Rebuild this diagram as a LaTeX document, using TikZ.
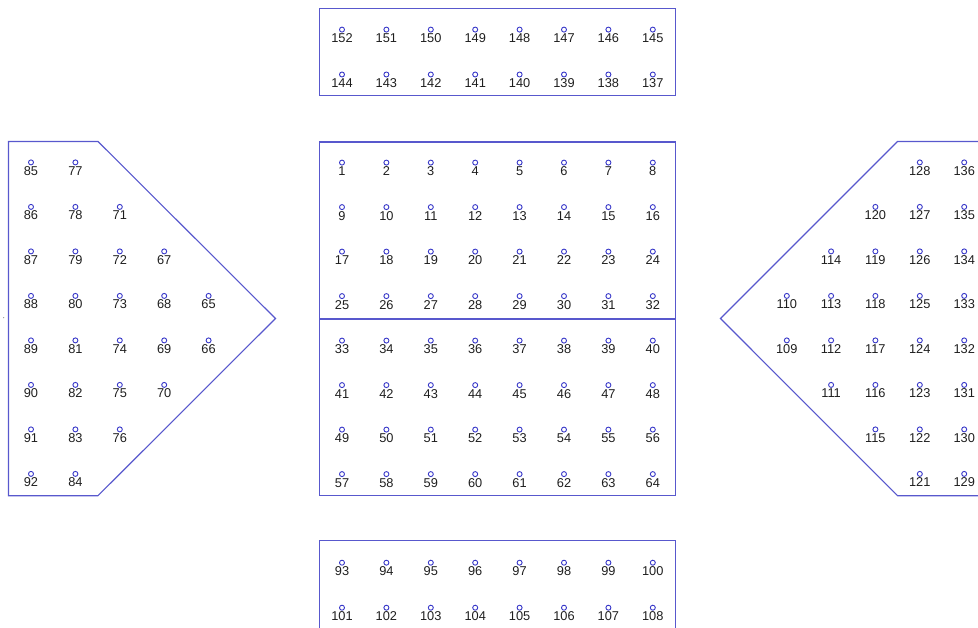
\documentclass[tikz,border=0pt]{standalone}
\usepackage{fontspec}
\setmainfont{Liberation Sans}
\definecolor{edgeblue}{RGB}{88,88,205}
\definecolor{pinblue}{RGB}{55,55,200}
\definecolor{numgray}{RGB}{30,30,30}
\tikzset{
  region/.style={draw=edgeblue, line width=1.1pt},
  pindot/.style={circle, draw=pinblue, line width=0.9pt, minimum size=5pt, inner sep=0pt},
  pintext/.style={anchor=base, inner sep=0pt, text=numgray, font=\fontsize{12.8}{12.8}\selectfont},
}
\newcommand{\pinlab}[3]{%
  \node[pintext] (n#1) at (#2,#3+13.0) {#1};
  \node[pindot] (c#1) at (#2,#3) {};}
\begin{document}
\begin{tikzpicture}[x=1pt,y=-1pt]
\useasboundingbox (0,0) rectangle (978,628);
\clip (0,0) rectangle (978,628);
% regions
\draw[region] (319.5,8.5) rectangle (675.5,95.7);
\draw[region] (319.5,142) rectangle (675.5,495.5);
\draw[region] (319.5,319) -- (675.5,319);
\draw[region] (319.5,640) -- (319.5,540.7) -- (675.5,540.7) -- (675.5,640);
\draw[region] (8.5,141.5) -- (98,141.5) -- (275.5,318.5) -- (98,495.7) -- (8.5,495.7) -- cycle;
\draw[region] (990,141.5) -- (897.5,141.5) -- (720.5,318.5) -- (897.5,495.7) -- (990,495.7);
\fill[gray] (3.7,317.7) circle (0.6);
% top box
\foreach \c in {0,...,7} {
  \pgfmathtruncatemacro\na{152-\c}
  \pgfmathtruncatemacro\nb{144-\c}
  \pinlab{\na}{342+44.4*\c}{29.6}
  \pinlab{\nb}{342+44.4*\c}{74.5}
}
% bottom box
\foreach \c in {0,...,7} {
  \pgfmathtruncatemacro\na{93+\c}
  \pgfmathtruncatemacro\nb{101+\c}
  \pinlab{\na}{342+44.4*\c}{562.7}
  \pinlab{\nb}{342+44.4*\c}{607.7}
}
% central grid
\foreach \r in {0,...,7} {
  \foreach \c in {0,...,7} {
    \pgfmathtruncatemacro\nn{8*\r+\c+1}
    \pinlab{\nn}{342+44.4*\c}{162.6+44.5*\r}
  }
}
% left pentagon
\foreach \r in {0,...,7} {
  \pgfmathtruncatemacro\na{85+\r}
  \pgfmathtruncatemacro\nb{77+\r}
  \pinlab{\na}{31}{162.4+44.5*\r}
  \pinlab{\nb}{75.4}{162.4+44.5*\r}
}
\foreach \r in {1,...,6} {
  \pgfmathtruncatemacro\na{70+\r}
  \pinlab{\na}{119.8}{162.4+44.5*\r}
}
\foreach \r in {2,...,5} {
  \pgfmathtruncatemacro\na{65+\r}
  \pinlab{\na}{164.2}{162.4+44.5*\r}
}
\foreach \r in {3,4} {
  \pgfmathtruncatemacro\na{62+\r}
  \pinlab{\na}{208.6}{162.4+44.5*\r}
}
% right pentagon
\foreach \r in {3,4} {
  \pgfmathtruncatemacro\na{113-\r}
  \pinlab{\na}{786.8}{162.4+44.5*\r}
}
\foreach \r in {2,...,5} {
  \pgfmathtruncatemacro\na{116-\r}
  \pinlab{\na}{831.1}{162.4+44.5*\r}
}
\foreach \r in {1,...,6} {
  \pgfmathtruncatemacro\na{121-\r}
  \pinlab{\na}{875.4}{162.4+44.5*\r}
}
\foreach \r in {0,...,7} {
  \pgfmathtruncatemacro\na{128-\r}
  \pgfmathtruncatemacro\nb{136-\r}
  \pinlab{\na}{919.8}{162.4+44.5*\r}
  \pinlab{\nb}{964.2}{162.4+44.5*\r}
}
\end{tikzpicture}
\end{document}
